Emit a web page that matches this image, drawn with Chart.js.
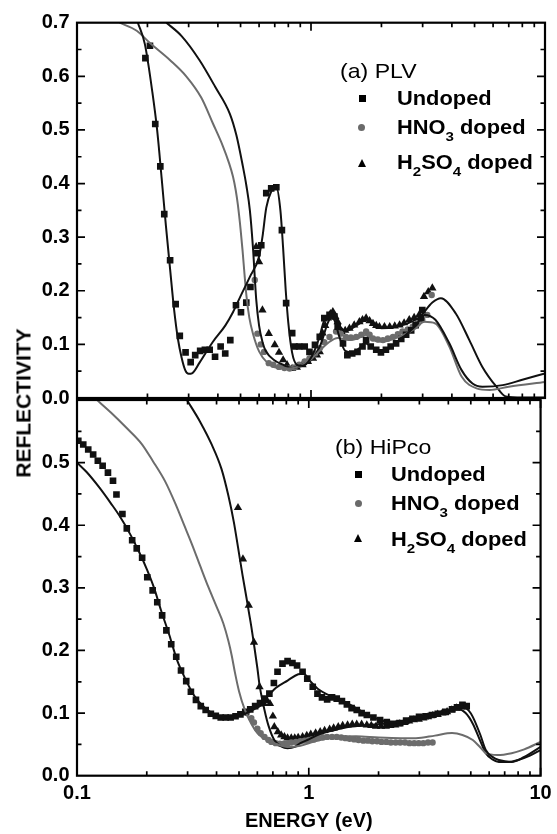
<!DOCTYPE html>
<html><head><meta charset="utf-8">
<script src="https://cdn.jsdelivr.net/npm/chart.js@4/dist/chart.umd.min.js"></script>
<style>
html,body{margin:0;padding:0;background:#fff;}
#wrap{position:relative;width:557px;height:834px;overflow:hidden;font-family:"Liberation Sans",Arial,sans-serif;color:#000;}
canvas{position:absolute;left:0;}
#cTop{top:0;}
#cBot{top:380px;}
.lab{position:absolute;white-space:nowrap;line-height:1;transform-origin:0 0;}
.leg{font-weight:bold;font-size:19.5px;transform:scaleX(1.12);}
.ttl{font-size:21px;transform:scaleX(1.1);}
.sb{font-size:13.5px;position:relative;top:7px;}
.sq{position:absolute;width:7px;height:7px;background:#000;}
.ci{position:absolute;width:7px;height:7px;border-radius:50%;background:#6a6a6a;}
.tr{position:absolute;width:0;height:0;border-left:4.5px solid transparent;border-right:4.5px solid transparent;border-bottom:8px solid #000;}
#ytitle{position:absolute;left:22.5px;top:403px;transform:translate(-50%,-50%) rotate(-90deg);font-weight:bold;font-size:21px;white-space:nowrap;line-height:1;}
</style></head><body>
<div id="wrap">
<canvas id="cTop" width="557" height="430"></canvas>
<canvas id="cBot" width="557" height="454"></canvas>

<div class="lab ttl" style="left:340px;top:59.5px;">(a) PLV</div>
<div class="sq" style="left:359.2px;top:94.8px;"></div>
<div class="lab leg" style="left:396.5px;top:89.2px;">Undoped</div>
<div class="ci" style="left:358.2px;top:124.2px;"></div>
<div class="lab leg" style="left:396.5px;top:117.8px;">HNO<span class="sb">3</span> doped</div>
<div class="tr" style="left:358.2px;top:159.3px;"></div>
<div class="lab leg" style="left:396.5px;top:153px;">H<span class="sb">2</span>SO<span class="sb">4</span> doped</div>

<div class="lab ttl" style="left:335px;top:436px;">(b) HiPco</div>
<div class="sq" style="left:354.8px;top:470.5px;"></div>
<div class="lab leg" style="left:390.5px;top:465.2px;">Undoped</div>
<div class="ci" style="left:354.8px;top:499.8px;"></div>
<div class="lab leg" style="left:390.5px;top:493.5px;">HNO<span class="sb">3</span> doped</div>
<div class="tr" style="left:353.8px;top:534.3px;"></div>
<div class="lab leg" style="left:390.5px;top:530.2px;">H<span class="sb">2</span>SO<span class="sb">4</span> doped</div>

<div id="ytitle">REFLECTIVITY</div>
</div>
<script>
// ---------- tick values ----------
const xTickLabels = [0.1, 1, 10];
const xMinorTicks = [0.2,0.3,0.4,0.5,0.6,0.7,0.8,0.9,2,3,4,5,6,7,8,9];
const topYMajor = [0.1,0.2,0.3,0.4,0.5,0.6];
const topYMinor = [0.05,0.15,0.25,0.35,0.45,0.55,0.65];
const botYMajor = [0.1,0.2,0.3,0.4,0.5];
const botYMinor = [0.05,0.15,0.25,0.35,0.45,0.55];

// ---------- (a) PLV : measured points ----------
const plvUndopedE = [0.196,0.205,0.216,0.227,0.236,0.250,0.264,0.275,0.291,0.306,0.320,0.336,0.352,0.369,0.389,0.411,0.430,0.452,0.478,0.502,0.529,0.551,0.59,0.613,0.644,0.676,0.711,0.751,0.783,0.831,0.85,0.89,0.94,0.985,1.04,1.09,1.14,1.2,1.26,1.3,1.37,1.43,1.5,1.58,1.66,1.72,1.8,1.9,1.99,2.09,2.19,2.31,2.43,2.55,2.68,2.8,2.95,2.99];
const plvUndopedR = [0.634,0.657,0.511,0.432,0.343,0.257,0.175,0.116,0.085,0.067,0.080,0.088,0.090,0.090,0.077,0.096,0.083,0.108,0.173,0.160,0.178,0.207,0.27,0.285,0.382,0.391,0.393,0.313,0.177,0.121,0.096,0.096,0.096,0.086,0.099,0.114,0.149,0.155,0.152,0.133,0.102,0.080,0.083,0.086,0.096,0.108,0.096,0.090,0.085,0.090,0.096,0.102,0.110,0.118,0.126,0.136,0.149,0.164];
const plvHno3E = [0.575,0.59,0.61,0.63,0.66,0.69,0.73,0.77,0.81,0.85,0.89,0.94,0.985,1.04,1.09,1.14,1.2,1.28,1.34,1.41,1.48,1.56,1.64,1.72,1.78,1.84,1.93,2.03,2.13,2.24,2.35,2.46,2.59,2.72,2.85,2.99,3.14,3.28];
const plvHno3R = [0.22,0.12,0.10,0.086,0.065,0.062,0.058,0.056,0.055,0.057,0.062,0.068,0.074,0.083,0.093,0.104,0.114,0.124,0.12,0.114,0.113,0.114,0.118,0.124,0.118,0.111,0.109,0.108,0.111,0.114,0.119,0.124,0.128,0.133,0.139,0.146,0.155,0.192];
const plvH2so4E = [0.583,0.60,0.62,0.66,0.70,0.73,0.76,0.79,0.83,0.87,0.92,0.97,1.02,1.06,1.09,1.12,1.15,1.18,1.21,1.24,1.27,1.3,1.35,1.4,1.46,1.53,1.61,1.66,1.72,1.78,1.84,1.9,1.96,2.06,2.17,2.28,2.39,2.5,2.63,2.76,2.9,3.04,3.17,3.3];
const plvH2so4R = [0.282,0.254,0.164,0.12,0.099,0.085,0.071,0.062,0.055,0.057,0.062,0.068,0.074,0.08,0.086,0.121,0.135,0.149,0.157,0.161,0.152,0.142,0.124,0.126,0.130,0.136,0.142,0.146,0.149,0.144,0.139,0.135,0.133,0.133,0.133,0.134,0.136,0.14,0.146,0.15,0.155,0.189,0.198,0.205];
// ---------- (a) PLV : fits ----------
const plvUndopedFitE = [0.182,0.195,0.21,0.22,0.23,0.24,0.25,0.26,0.27,0.28,0.29,0.30,0.31,0.334,0.381,0.43,0.464,0.5,0.548,0.6,0.62,0.644,0.676,0.71,0.74,0.76,0.78,0.80,0.83,0.87,0.92,1.0,1.08,1.14,1.2,1.26,1.32,1.4,1.5,1.6,1.7,1.8,1.9,2.0,2.2,2.5,2.8,3.05,3.4,3.9,4.4,4.9,5.4,6.6,8.0,10];
const plvUndopedFitR = [0.70,0.66,0.57,0.50,0.41,0.32,0.24,0.165,0.11,0.075,0.052,0.045,0.046,0.066,0.105,0.135,0.16,0.19,0.226,0.264,0.30,0.355,0.385,0.394,0.35,0.28,0.20,0.14,0.085,0.062,0.06,0.075,0.11,0.145,0.152,0.145,0.115,0.088,0.085,0.092,0.102,0.097,0.09,0.088,0.095,0.115,0.135,0.155,0.146,0.102,0.052,0.027,0.021,0.024,0.034,0.046];
const plvHno3FitE = [0.152,0.18,0.205,0.25,0.293,0.34,0.381,0.42,0.445,0.464,0.477,0.487,0.50,0.51,0.52,0.53,0.545,0.565,0.6,0.65,0.72,0.8,0.9,1.0,1.1,1.2,1.3,1.45,1.6,1.72,1.85,2.0,2.4,2.8,3.05,3.4,3.9,4.4,5.1,5.8,7.0,10];
const plvHno3FitR = [0.70,0.685,0.662,0.63,0.60,0.56,0.512,0.47,0.44,0.413,0.387,0.36,0.315,0.275,0.23,0.19,0.15,0.12,0.087,0.066,0.056,0.055,0.06,0.072,0.09,0.105,0.112,0.108,0.112,0.118,0.108,0.105,0.115,0.13,0.142,0.139,0.096,0.04,0.018,0.015,0.021,0.03];
const plvH2so4FitE = [0.241,0.28,0.334,0.39,0.45,0.48,0.51,0.53,0.548,0.565,0.583,0.60,0.62,0.64,0.70,0.76,0.83,0.92,1.02,1.1,1.18,1.24,1.3,1.4,1.6,1.72,1.85,2.0,2.4,2.9,3.3,3.59,4.15,4.75,5.4,6.2,6.8,8.0,10];
const plvH2so4FitR = [0.70,0.675,0.63,0.58,0.53,0.49,0.435,0.395,0.35,0.28,0.185,0.135,0.105,0.088,0.07,0.062,0.056,0.062,0.074,0.1,0.14,0.155,0.14,0.125,0.138,0.145,0.137,0.13,0.135,0.15,0.178,0.186,0.158,0.108,0.058,0.021,0.003,0.001,0.001];

// ---------- (b) HiPco : measured points ----------
const hipUndopedE = [0.1013,0.1064,0.1118,0.1174,0.123,0.129,0.136,0.143,0.148,0.157,0.164,0.173,0.181,0.191,0.201,0.212,0.222,0.233,0.243,0.255,0.268,0.281,0.296,0.310,0.326,0.342,0.359,0.378,0.397,0.417,0.438,0.46,0.483,0.507,0.532,0.559,0.587,0.616,0.644,0.676,0.707,0.733,0.77,0.81,0.85,0.89,0.94,0.985,1.04,1.09,1.14,1.2,1.26,1.32,1.39,1.46,1.53,1.61,1.69,1.78,1.9,2.03,2.17,2.31,2.46,2.63,2.8,2.99,3.19,3.4,3.6,3.9,4.15,4.36,4.6,4.8];
const hipUndopedR = [0.535,0.529,0.521,0.513,0.503,0.495,0.484,0.471,0.449,0.418,0.395,0.376,0.363,0.348,0.317,0.296,0.277,0.256,0.232,0.210,0.190,0.168,0.151,0.134,0.121,0.111,0.105,0.099,0.0955,0.093,0.093,0.093,0.095,0.098,0.102,0.106,0.111,0.116,0.123,0.131,0.148,0.166,0.179,0.183,0.18,0.176,0.166,0.155,0.142,0.131,0.125,0.122,0.125,0.123,0.119,0.114,0.108,0.105,0.1,0.097,0.093,0.089,0.0855,0.083,0.084,0.088,0.091,0.094,0.095,0.097,0.099,0.102,0.106,0.109,0.113,0.111];
const hipHno3E = [0.54,0.565,0.58,0.60,0.62,0.644,0.67,0.69,0.72,0.75,0.78,0.81,0.84,0.88,0.92,0.96,1.0,1.05,1.1,1.15,1.2,1.26,1.32,1.38,1.44,1.5,1.57,1.64,1.72,1.8,1.88,1.97,2.06,2.16,2.26,2.37,2.48,2.6,2.72,2.85,2.98,3.12,3.27,3.42];
const hipHno3R = [0.10,0.092,0.085,0.075,0.068,0.062,0.057,0.054,0.052,0.051,0.051,0.052,0.053,0.054,0.055,0.056,0.057,0.058,0.06,0.061,0.062,0.062,0.062,0.061,0.06,0.059,0.058,0.057,0.056,0.056,0.055,0.055,0.054,0.054,0.053,0.053,0.053,0.053,0.052,0.052,0.052,0.052,0.053,0.053];
const hipH2so4E = [0.495,0.52,0.551,0.58,0.613,0.64,0.66,0.68,0.70,0.71,0.735,0.76,0.785,0.81,0.84,0.87,0.9,0.94,0.98,1.02,1.07,1.12,1.17,1.23,1.28,1.34,1.4,1.47,1.54,1.61,1.69,1.78,1.86,1.95,2.05,2.15,2.25,2.36,2.47,2.59,2.71,2.84,2.98,3.12,3.27,3.43,3.6,3.77,3.95,4.14,4.34,4.55,4.75];
const hipH2so4R = [0.428,0.346,0.272,0.213,0.142,0.115,0.12,0.115,0.095,0.078,0.07,0.065,0.062,0.06,0.06,0.06,0.061,0.062,0.064,0.066,0.068,0.07,0.072,0.074,0.076,0.078,0.08,0.081,0.082,0.082,0.082,0.081,0.08,0.079,0.079,0.079,0.08,0.081,0.083,0.085,0.087,0.089,0.09,0.092,0.094,0.096,0.098,0.1,0.102,0.105,0.108,0.11,0.11];
// ---------- (b) HiPco : fits ----------
const hipUndopedFitE = [0.1,0.11,0.125,0.14,0.1525,0.17,0.186,0.2,0.215,0.23,0.25,0.27,0.293,0.32,0.357,0.40,0.434,0.48,0.53,0.58,0.62,0.66,0.72,0.81,0.9,0.95,1.02,1.1,1.2,1.28,1.4,1.6,1.8,2.0,2.3,2.6,3.0,3.6,4.2,4.6,4.9,5.1,5.5,5.8,6.2,6.6,7.5,8.5,10];
const hipUndopedFitR = [0.50,0.485,0.46,0.435,0.415,0.385,0.356,0.33,0.30,0.265,0.225,0.185,0.155,0.128,0.108,0.096,0.093,0.094,0.099,0.106,0.112,0.125,0.14,0.152,0.162,0.163,0.15,0.138,0.13,0.126,0.12,0.108,0.097,0.09,0.085,0.087,0.093,0.1,0.107,0.11,0.104,0.094,0.065,0.041,0.03,0.025,0.022,0.03,0.046];
const hipHno3FitE = [0.121,0.14,0.163,0.19,0.212,0.24,0.266,0.29,0.313,0.34,0.369,0.40,0.428,0.45,0.465,0.48,0.50,0.53,0.565,0.60,0.65,0.71,0.81,0.92,1.05,1.28,1.6,2.0,2.5,2.9,3.5,4.15,4.6,5.1,5.5,5.8,6.5,7.5,8.5,10];
const hipHno3FitR = [0.601,0.58,0.556,0.53,0.503,0.47,0.434,0.40,0.37,0.335,0.301,0.27,0.243,0.215,0.192,0.165,0.135,0.105,0.083,0.068,0.058,0.052,0.046,0.048,0.054,0.062,0.063,0.061,0.06,0.06,0.064,0.068,0.065,0.057,0.045,0.036,0.033,0.036,0.042,0.054];
const hipH2so4FitE = [0.298,0.34,0.381,0.42,0.45,0.475,0.495,0.518,0.538,0.551,0.565,0.58,0.60,0.613,0.644,0.67,0.71,0.76,0.81,0.87,0.92,1.0,1.09,1.3,1.5,1.8,2.1,2.5,2.9,3.4,4.0,4.4,4.75,5.1,5.5,5.8,6.2,6.6,7.3,8.0,9.0,10];
const hipH2so4FitR = [0.60,0.565,0.529,0.49,0.447,0.405,0.365,0.32,0.285,0.262,0.238,0.21,0.172,0.145,0.105,0.08,0.057,0.047,0.044,0.046,0.052,0.058,0.065,0.073,0.078,0.081,0.083,0.087,0.094,0.099,0.105,0.106,0.1,0.083,0.055,0.036,0.026,0.022,0.022,0.025,0.032,0.041];

// ---------- helpers ----------
const BLACK = '#111111', GRAY = '#6c6c6c';
function pts(E, R) { return E.map((e, i) => ({x: e, y: R[i]})); }
function fitDs(E, R, color) {
  return {data: pts(E, R), showLine: true, pointRadius: 0, borderColor: color, borderWidth: 2,
          cubicInterpolationMode: 'monotone', fill: false};
}
function markDs(E, R, style, color, radius) {
  return {data: pts(E, R), showLine: false, pointStyle: style, pointRadius: radius,
          backgroundColor: color, borderColor: color, borderWidth: 0};
}

const frameTicks = {
  id: 'frameTicks',
  afterDatasetsDraw(chart, args, o) {
    const {ctx, chartArea: a} = chart;
    const xs = chart.scales.x, ys = chart.scales.y;
    ctx.save();
    ctx.strokeStyle = '#000';
    ctx.lineWidth = 1.7;
    ctx.beginPath();
    const seg = (x1, y1, x2, y2) => { ctx.moveTo(x1, y1); ctx.lineTo(x2, y2); };
    const yt = (vals, len) => vals.forEach(v => { const p = ys.getPixelForValue(v); seg(a.left, p, a.left + len, p); seg(a.right, p, a.right - len, p); });
    const xt = (vals, len) => vals.forEach(v => { const p = xs.getPixelForValue(v); seg(p, a.top, p, a.top + len); seg(p, a.bottom, p, a.bottom - len); });
    yt(o.yMajor, 8); yt(o.yMinor, 4.5);
    xt(xTickLabels, 8); xt(xMinorTicks, 4.5);
    ctx.stroke();
    ctx.lineWidth = 2.2;
    ctx.strokeRect(a.left, a.top, a.right - a.left, a.bottom - a.top);
    ctx.restore();
  }
};

const tickFont = {family: '"Liberation Sans", Arial, sans-serif', size: 20, weight: 'bold'};

function makeChart(id, datasets, yMax, yMajor, yMinor, showX, padding) {
  return new Chart(document.getElementById(id), {
    type: 'scatter',
    data: {datasets},
    options: {
      responsive: false, animation: false, devicePixelRatio: 1,
      layout: {padding},
      plugins: {legend: {display: false}, tooltip: {enabled: false},
                frameTicks: {yMajor, yMinor}},
      scales: {
        x: {type: 'logarithmic', min: 0.1, max: 10, display: showX,
            grid: {display: false, drawTicks: false}, border: {display: false},
            afterBuildTicks: s => { s.ticks = xTickLabels.map(v => ({value: v})); },
            ticks: {color: '#000', font: tickFont, padding: 5.3, maxRotation: 0, autoSkip: false,
                    callback: v => String(v)},
            title: {display: showX, text: 'ENERGY (eV)', color: '#000',
                    font: {family: '"Liberation Sans", Arial, sans-serif', size: 20, weight: 'bold'},
                    padding: {top: 0, bottom: 1}},
            afterFit: s => { if (showX) s.height = 58.3; }},
        y: {type: 'linear', min: 0, max: yMax,
            grid: {display: false, drawTicks: false}, border: {display: false},
            ticks: {stepSize: 0.1, color: '#000', font: tickFont, padding: 7.5,
                    callback: v => (v > yMax - 0.05 && yMax < 0.65) ? '' : v.toFixed(1)},
            afterFit: s => { s.width = 77; }}
      }
    },
    plugins: [frameTicks]
  });
}

makeChart('cTop', [
  fitDs(plvUndopedFitE, plvUndopedFitR, BLACK),
  fitDs(plvHno3FitE, plvHno3FitR, GRAY),
  fitDs(plvH2so4FitE, plvH2so4FitR, BLACK),
  markDs(plvUndopedE, plvUndopedR, 'rect', BLACK, 4.7),
  markDs(plvHno3E, plvHno3R, 'circle', GRAY, 3.2),
  markDs(plvH2so4E, plvH2so4R, 'triangle', BLACK, 4.8)
], 0.7, topYMajor, topYMinor, false, {top: 22.7, bottom: 32, left: 0, right: 12});

makeChart('cBot', [
  fitDs(hipUndopedFitE, hipUndopedFitR, BLACK),
  fitDs(hipHno3FitE, hipHno3FitR, GRAY),
  fitDs(hipH2so4FitE, hipH2so4FitR, BLACK),
  markDs(hipUndopedE, hipUndopedR, 'rect', BLACK, 4.7),
  markDs(hipHno3E, hipHno3R, 'circle', GRAY, 3.2),
  markDs(hipH2so4E, hipH2so4R, 'triangle', BLACK, 4.8)
], 0.6, botYMajor, botYMinor, true, {top: 20, bottom: 0, left: 0, right: 12});
</script>
</body></html>
